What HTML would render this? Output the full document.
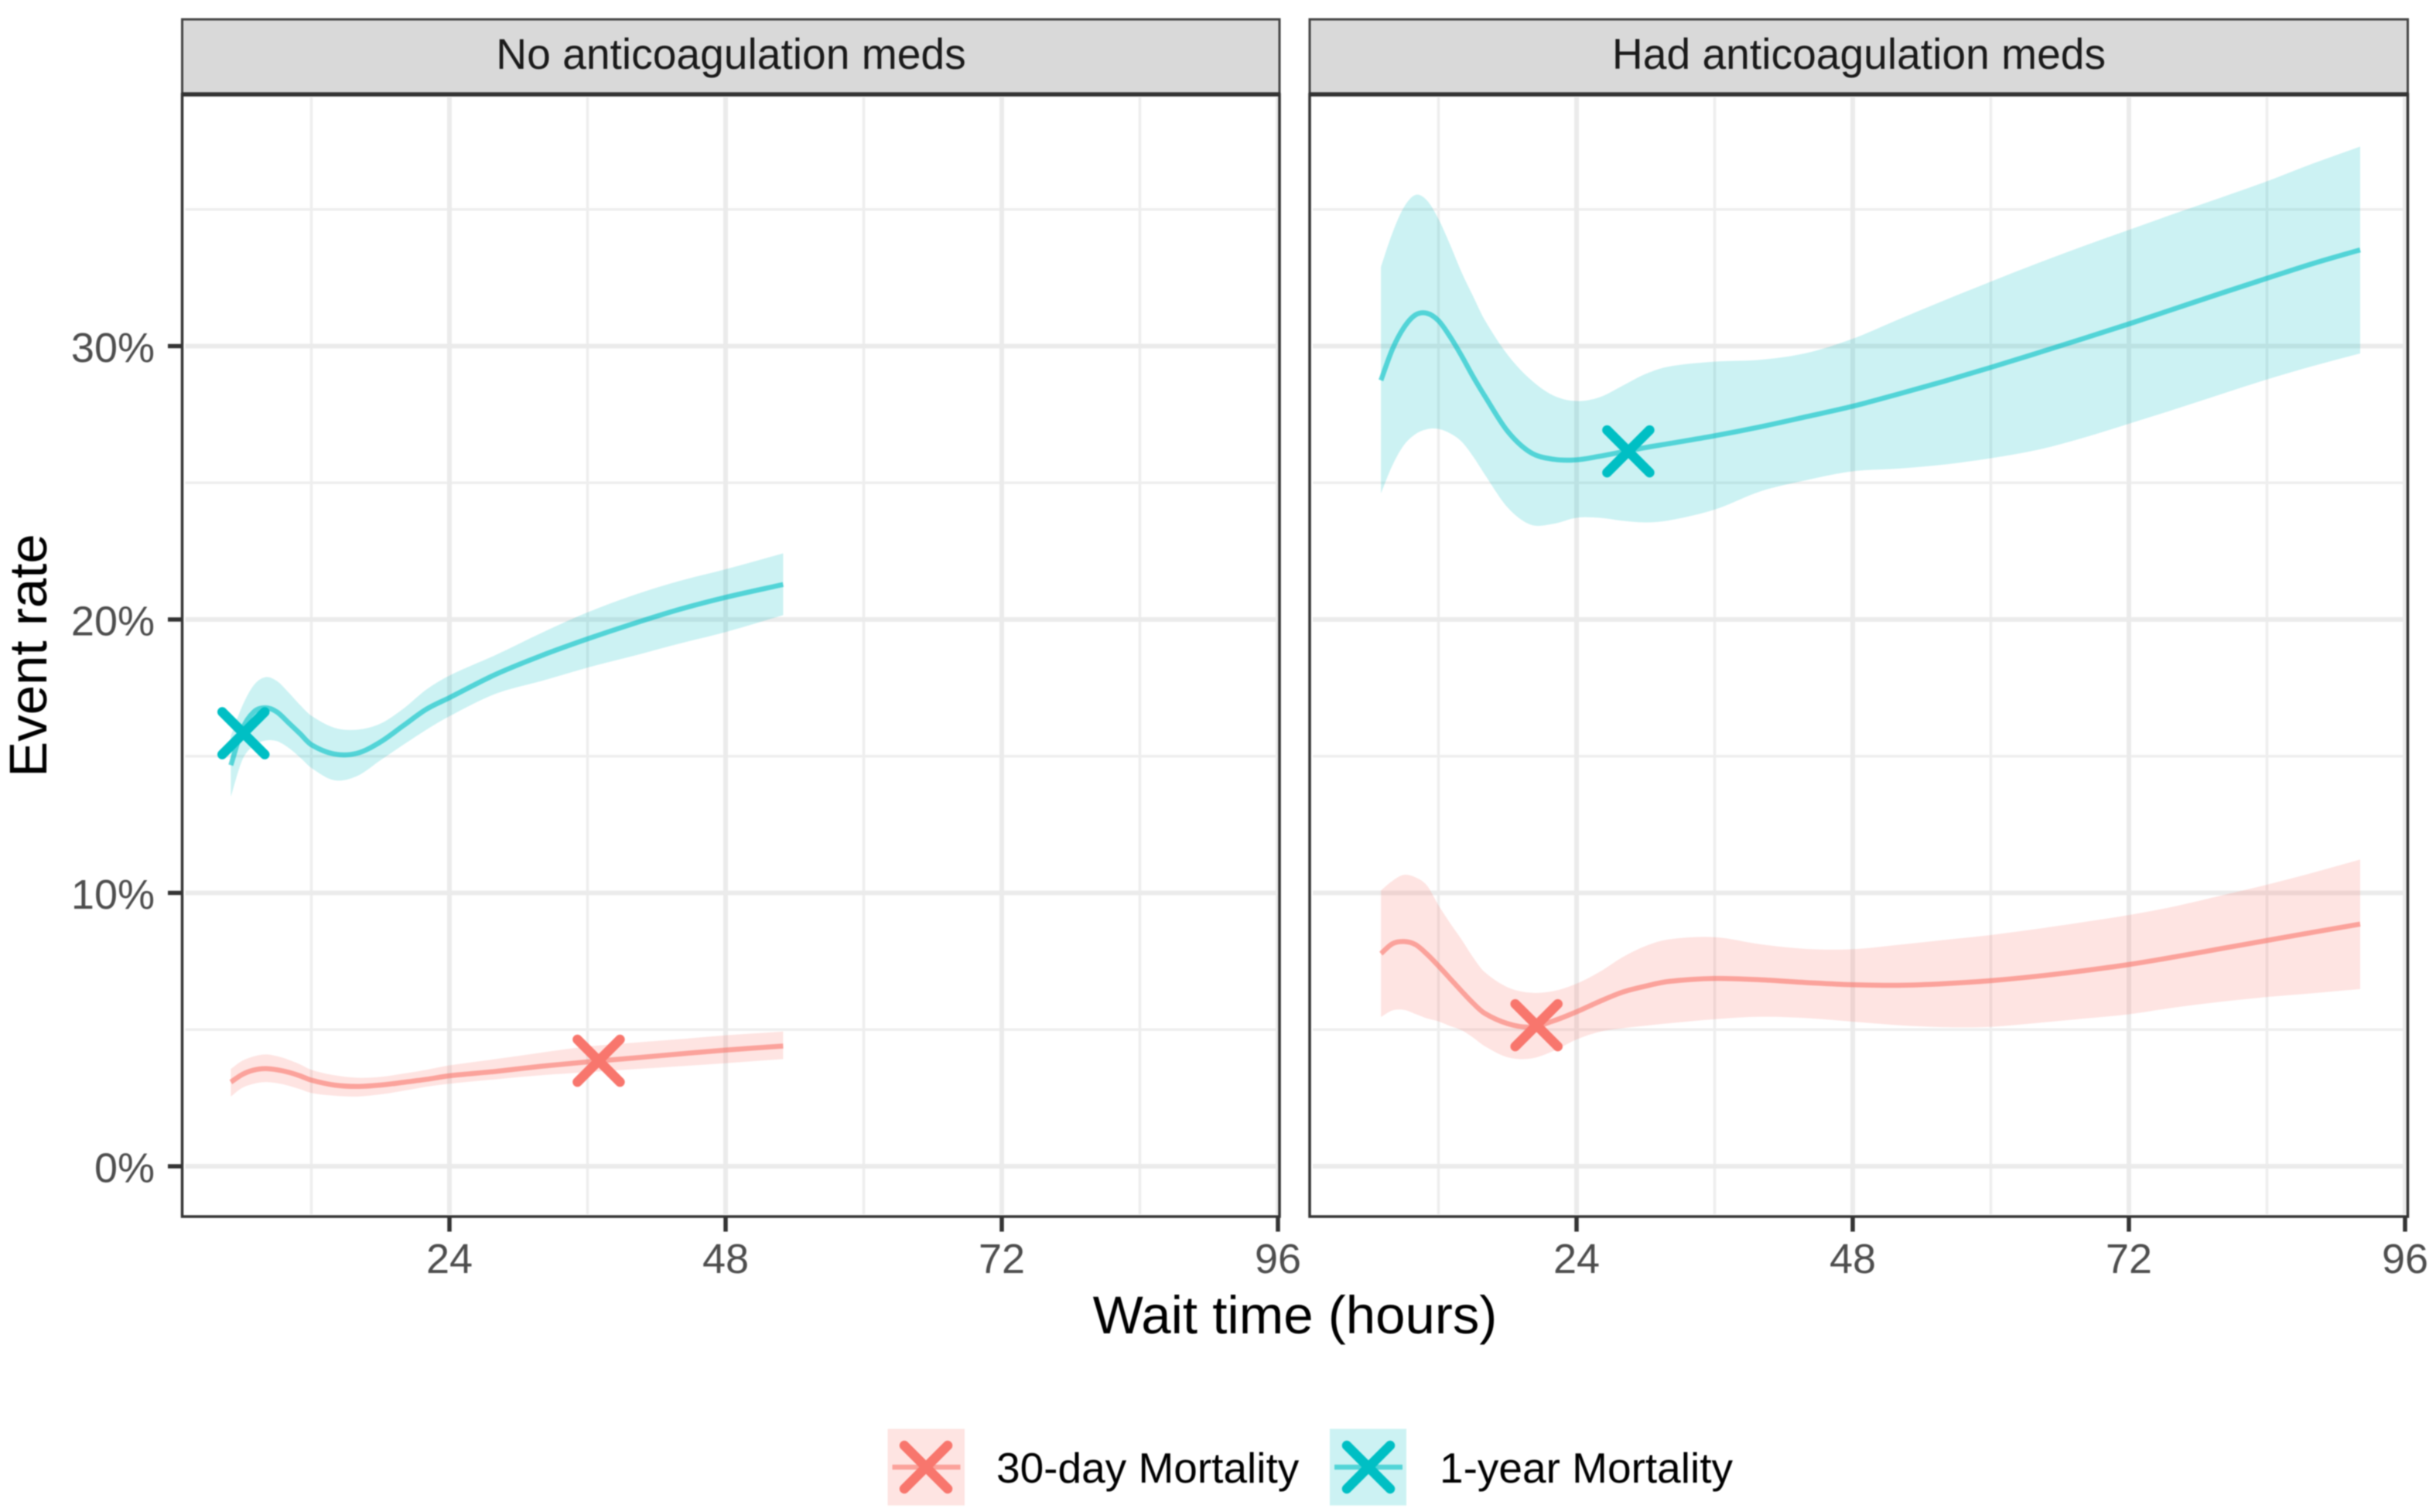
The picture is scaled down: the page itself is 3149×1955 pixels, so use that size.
<!DOCTYPE html>
<html lang="en">
<head>
<meta charset="utf-8">
<title>Event rate by wait time</title>
<style>
html,body{margin:0;padding:0;background:#fff;}
svg{display:block;font-family:"Liberation Sans",Arial,sans-serif;filter:blur(0.8px);}
</style>
</head>
<body>
<svg id="chart" xmlns="http://www.w3.org/2000/svg" width="3149" height="1955" viewBox="0 0 3149 1955">
  <rect x="0" y="0" width="3149" height="1955" fill="#ffffff"/>
  <g id="panels"></g>
  <rect x="235.5" y="25" width="1418.5" height="97" fill="#d9d9d9" stroke="#444444" stroke-width="3"/>
  <rect x="1693" y="25" width="1419.5" height="97" fill="#d9d9d9" stroke="#444444" stroke-width="3"/>
  <line x1="234" y1="122" x2="1655.5" y2="122" stroke="#333333" stroke-width="5.5"/>
  <line x1="1691.5" y1="122" x2="3114" y2="122" stroke="#333333" stroke-width="5.5"/>
  <text x="945" y="89" font-size="55.2" fill="#1a1a1a" text-anchor="middle">No anticoagulation meds</text>
  <text x="2403" y="89" font-size="55.2" fill="#1a1a1a" text-anchor="middle">Had anticoagulation meds</text>
  <text x="1674" y="1724" font-size="69" fill="#000000" text-anchor="middle">Wait time (hours)</text>
  <text x="0" y="0" font-size="69" fill="#000000" text-anchor="middle" transform="translate(60 847.5) rotate(-90)">Event rate</text>
  <g>
    <g>
      <rect x="1147.5" y="1847.5" width="99.5" height="99" fill="#F8766D" fill-opacity="0.2"/>
      <line x1="1153.5" y1="1897" x2="1241.5" y2="1897" stroke="#F8766D" stroke-opacity="0.6" stroke-width="6.5"/>
      <path d="M1169 1869L1225 1925M1225 1869L1169 1925" stroke="#F8766D" stroke-width="12.5" stroke-linecap="round" fill="none"/>
      <text x="1288" y="1917" font-size="55" fill="#000000">30-day Mortality</text>
    </g>
    <g>
      <rect x="1719" y="1847.5" width="99" height="99" fill="#00BFC4" fill-opacity="0.2"/>
      <line x1="1725" y1="1897" x2="1813" y2="1897" stroke="#00BFC4" stroke-opacity="0.6" stroke-width="6.5"/>
      <path d="M1741 1869L1797 1925M1797 1869L1741 1925" stroke="#00BFC4" stroke-width="12.5" stroke-linecap="round" fill="none"/>
      <text x="1861" y="1917" font-size="55" fill="#000000">1-year Mortality</text>
    </g>
  </g>
</svg>
<script>
/* ---- Axis data ---- */
const xMajorTicks = [24, 48, 72, 96];
const xMinorTicks = [12, 36, 60, 84];
const yMajorTicks = [0, 10, 20, 30];
const yMinorTicks = [5, 15, 25, 35];
const yTickLabels = ["0%", "10%", "20%", "30%"];
const xTickLabels = ["24", "48", "72", "96"];

/* ---- No anticoagulation meds ---- */
const hoursNoMeds = [5,6,7,8,9,10,11,12,14,16,18,20,22,24,28,32,36,40,44,48,53];
const noMeds1yMean = [14.67,15.99,16.62,16.77,16.62,16.23,15.83,15.42,15.08,15.11,15.52,16.12,16.72,17.14,17.99,18.68,19.29,19.85,20.37,20.81,21.28];
const noMeds1yUpper = [15.75,16.84,17.60,17.89,17.75,17.34,16.88,16.48,16.04,15.97,16.19,16.74,17.44,17.95,18.70,19.51,20.26,20.89,21.41,21.84,22.42];
const noMeds1yLower = [13.52,14.86,15.39,15.57,15.55,15.31,14.96,14.57,14.12,14.28,14.85,15.42,15.97,16.46,17.28,17.75,18.24,18.67,19.12,19.54,20.16];
const noMeds30dMean = [3.08,3.36,3.52,3.57,3.53,3.44,3.31,3.15,2.97,2.92,2.97,3.07,3.18,3.31,3.47,3.66,3.82,3.96,4.11,4.25,4.40];
const noMeds30dUpper = [3.56,3.86,4.02,4.09,4.03,3.90,3.73,3.53,3.33,3.24,3.27,3.39,3.53,3.69,3.92,4.16,4.38,4.52,4.65,4.79,4.93];
const noMeds30dLower = [2.55,2.87,3.02,3.08,3.04,2.95,2.82,2.68,2.58,2.55,2.63,2.76,2.91,3.02,3.18,3.33,3.44,3.55,3.66,3.77,3.92];
const noMeds1yMarker = [6.1, 15.84];
const noMeds30dMarker = [36.97, 3.86];

/* ---- Had anticoagulation meds ---- */
const hoursHadMeds = [7,8,9,10,11,12,13,14,15,16,18,20,22,24,26,28,30,32,36,40,44,48,52,56,60,64,68,72,76,80,84,88,92.1];
const hadMeds1yMean = [28.75,29.89,30.68,31.14,31.20,30.93,30.35,29.65,28.89,28.19,26.89,26.11,25.86,25.84,25.97,26.13,26.29,26.43,26.72,27.05,27.42,27.80,28.25,28.72,29.22,29.74,30.27,30.81,31.37,31.93,32.48,33.02,33.52];
const hadMeds1yUpper = [32.90,34.14,35.08,35.53,35.33,34.65,33.72,32.71,31.83,30.97,29.69,28.78,28.19,27.99,28.13,28.55,28.98,29.25,29.43,29.50,29.75,30.27,30.98,31.68,32.36,33.02,33.65,34.25,34.85,35.43,36.03,36.68,37.30];
const hadMeds1yLower = [24.61,25.64,26.38,26.78,26.96,26.97,26.81,26.51,25.97,25.32,24.10,23.47,23.50,23.72,23.72,23.61,23.55,23.62,24.02,24.69,25.10,25.42,25.52,25.67,25.90,26.20,26.64,27.16,27.69,28.24,28.78,29.27,29.73];
const hadMeds30dMean = [7.78,8.14,8.22,8.11,7.76,7.33,6.87,6.41,5.97,5.60,5.22,5.09,5.32,5.65,6.03,6.37,6.59,6.76,6.87,6.82,6.72,6.64,6.62,6.68,6.79,6.95,7.15,7.38,7.66,7.96,8.26,8.56,8.86];
const hadMeds30dUpper = [10.09,10.44,10.66,10.57,10.27,9.55,8.90,8.30,7.65,7.11,6.55,6.35,6.41,6.68,7.11,7.65,8.06,8.30,8.38,8.12,7.95,7.94,8.10,8.28,8.46,8.68,8.93,9.19,9.51,9.90,10.30,10.74,11.22];
const hadMeds30dLower = [5.46,5.70,5.72,5.57,5.41,5.30,5.13,4.98,4.71,4.40,3.99,3.94,4.22,4.64,4.92,5.05,5.14,5.23,5.38,5.47,5.42,5.29,5.16,5.09,5.10,5.24,5.40,5.56,5.81,6.02,6.19,6.33,6.48];
const hadMeds1yMarker = [28.5, 26.15];
const hadMeds30dMarker = [20.52, 5.16];

/* ---- Layout and scales ---- */
const SVG_NS = "http://www.w3.org/2000/svg";
const COLOR_30D = "#F8766D";
const COLOR_1Y = "#00BFC4";
const PX_PER_HOUR = 14.875;
const PX_PER_PCT = 35.35;
const Y_ZERO = 1508;
const PANEL_TOP = 122;
const PANEL_BOTTOM = 1573;

function yScale(pct) { return Y_ZERO - pct * PX_PER_PCT; }

function svgEl(tag, attrs, parent) {
  const el = document.createElementNS(SVG_NS, tag);
  for (const k in attrs) el.setAttribute(k, attrs[k]);
  parent.appendChild(el);
  return el;
}

/* Cubic Hermite through points, with slopes from x-aware finite differences */
function smoothSegments(pts) {
  function slope(i) {
    const a = pts[Math.max(i - 1, 0)];
    const b = pts[Math.min(i + 1, pts.length - 1)];
    return (b[1] - a[1]) / (b[0] - a[0]);
  }
  let d = "";
  for (let i = 0; i < pts.length - 1; i++) {
    const p1 = pts[i];
    const p2 = pts[i + 1];
    const dx = (p2[0] - p1[0]) / 3;
    const c1x = p1[0] + dx;
    const c1y = p1[1] + slope(i) * dx;
    const c2x = p2[0] - dx;
    const c2y = p2[1] - slope(i + 1) * dx;
    d += "C" + c1x.toFixed(2) + " " + c1y.toFixed(2) + " " + c2x.toFixed(2) + " " + c2y.toFixed(2) + " " + p2[0].toFixed(2) + " " + p2[1].toFixed(2);
  }
  return d;
}

function toPoints(hours, values, xScale) {
  return hours.map(function (h, i) { return [xScale(h), yScale(values[i])]; });
}

function drawSeries(g, key, color, hours, mean, upper, lower, marker, xScale) {
  const up = toPoints(hours, upper, xScale);
  const low = toPoints(hours, lower, xScale).reverse();
  const ribbonD = "M" + up[0][0].toFixed(2) + " " + up[0][1].toFixed(2) + smoothSegments(up) +
    "L" + low[0][0].toFixed(2) + " " + low[0][1].toFixed(2) + smoothSegments(low) + "Z";
  const ribbon = svgEl("path", { d: ribbonD, fill: color, "fill-opacity": 0.2 }, g);
  
  

  const linePts = toPoints(hours, mean, xScale);
  const lineD = "M" + linePts[0][0].toFixed(2) + " " + linePts[0][1].toFixed(2) + smoothSegments(linePts);
  const line = svgEl("path", { d: lineD, fill: "none", stroke: color, "stroke-opacity": 0.6, "stroke-width": 6.5 }, g);
  
  

  const mx = xScale(marker[0]);
  const my = yScale(marker[1]);
  const arm = 27.5;
  const markD = "M" + (mx - arm) + " " + (my - arm) + "L" + (mx + arm) + " " + (my + arm) +
    "M" + (mx + arm) + " " + (my - arm) + "L" + (mx - arm) + " " + (my + arm);
  const mark = svgEl("path", { d: markD, fill: "none", stroke: color, "stroke-width": 12.5, "stroke-linecap": "round" }, g);
  
  
}

function drawPanel(root, key, left, right, xZero, showY, series) {
  function xScale(h) { return xZero + h * PX_PER_HOUR; }
  const g = svgEl("g", {}, root);
  
  

  yMinorTicks.forEach(function (v) {
    const l = svgEl("line", { x1: left + 4, x2: right - 4, y1: yScale(v), y2: yScale(v), stroke: "#eeeeee", "stroke-width": 3.5 }, g);
    
    
  });
  xMinorTicks.forEach(function (v) {
    const l = svgEl("line", { x1: xScale(v), x2: xScale(v), y1: PANEL_TOP + 4, y2: PANEL_BOTTOM - 3, stroke: "#eeeeee", "stroke-width": 3.5 }, g);
    
    
  });
  yMajorTicks.forEach(function (v) {
    const l = svgEl("line", { x1: left + 4, x2: right - 4, y1: yScale(v), y2: yScale(v), stroke: "#ebebeb", "stroke-width": 6 }, g);
    
    
  });
  xMajorTicks.forEach(function (v) {
    const l = svgEl("line", { x1: xScale(v), x2: xScale(v), y1: PANEL_TOP + 4, y2: PANEL_BOTTOM - 3, stroke: "#ebebeb", "stroke-width": 6 }, g);
    
    
  });

  series.forEach(function (s) {
    drawSeries(g, key + '-' + s.key, s.color, s.hours, s.mean, s.upper, s.lower, s.marker, xScale);
  });

  const border = svgEl("rect", { x: left, y: PANEL_TOP, width: right - left, height: PANEL_BOTTOM - PANEL_TOP, fill: "none", stroke: "#333333", "stroke-width": 3.5 }, g);
  
  

  xMajorTicks.forEach(function (v, i) {
    const t = svgEl("line", { x1: xScale(v), x2: xScale(v), y1: PANEL_BOTTOM, y2: 1592.5, stroke: "#333333", "stroke-width": 5.5 }, g);
    
    
    const lab = svgEl("text", { x: xScale(v), y: 1646, "font-size": 54, fill: "#4d4d4d", "text-anchor": "middle" }, g);
    
    
    lab.textContent = xTickLabels[i];
  });

  if (showY) {
    yMajorTicks.forEach(function (v, i) {
      const t = svgEl("line", { x1: 217, x2: left, y1: yScale(v), y2: yScale(v), stroke: "#333333", "stroke-width": 5.5 }, g);
      
      
      const lab = svgEl("text", { x: 200, y: yScale(v) + 20.5, "font-size": 54, fill: "#4d4d4d", "text-anchor": "end" }, g);
      
      
      lab.textContent = yTickLabels[i];
    });
  }
}

const root = document.getElementById("panels");
drawPanel(root, "no-meds", 235.5, 1654, 224, true, [
  { key: "30-day", color: COLOR_30D, hours: hoursNoMeds, mean: noMeds30dMean, upper: noMeds30dUpper, lower: noMeds30dLower, marker: noMeds30dMarker },
  { key: "1-year", color: COLOR_1Y, hours: hoursNoMeds, mean: noMeds1yMean, upper: noMeds1yUpper, lower: noMeds1yLower, marker: noMeds1yMarker }
]);
drawPanel(root, "had-meds", 1693, 3112.5, 1681, false, [
  { key: "30-day", color: COLOR_30D, hours: hoursHadMeds, mean: hadMeds30dMean, upper: hadMeds30dUpper, lower: hadMeds30dLower, marker: hadMeds30dMarker },
  { key: "1-year", color: COLOR_1Y, hours: hoursHadMeds, mean: hadMeds1yMean, upper: hadMeds1yUpper, lower: hadMeds1yLower, marker: hadMeds1yMarker }
]);
</script>
</body>
</html>
